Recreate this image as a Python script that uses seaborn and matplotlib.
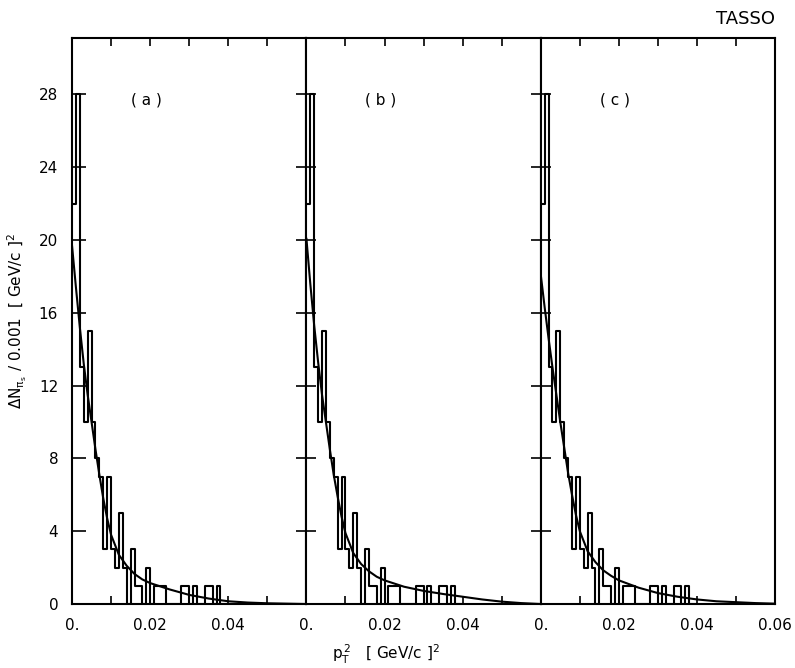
import numpy as np
import pandas as pd
import matplotlib
matplotlib.use("Agg")
import matplotlib.pyplot as plt
import seaborn as sns

# counts per 0.001 bin of pT^2
bin_width = 0.001
counts_a = [22, 28, 13, 10, 15, 10, 8, 7, 3, 7, 3, 2, 5, 2, 0, 3, 1, 1, 0, 2,
            0, 1, 1, 1, 0, 0, 0, 0, 1, 1, 0, 1, 0, 0, 1, 1, 0, 1, 0, 0]
counts_b = [22, 28, 13, 10, 15, 10, 8, 7, 3, 7, 3, 2, 5, 2, 0, 3, 1, 1, 0, 2,
            0, 1, 1, 1, 0, 0, 0, 0, 1, 1, 0, 1, 0, 0, 1, 1, 0, 1, 0, 0]
counts_c = [22, 28, 13, 10, 15, 10, 8, 7, 3, 7, 3, 2, 5, 2, 0, 3, 1, 1, 0, 2,
            0, 1, 1, 1, 0, 0, 0, 0, 1, 1, 0, 1, 0, 0, 1, 1, 0, 1, 0, 0]

# fitted curves
fit_x = [0.0, 0.001, 0.002, 0.003, 0.004, 0.005, 0.006, 0.007, 0.008, 0.009,
         0.010, 0.012, 0.014, 0.016, 0.018, 0.020, 0.025, 0.030, 0.035, 0.040,
         0.045, 0.050, 0.055, 0.060]
fit_a = [19.7, 17.4, 15.2, 13.2, 11.5, 10.0, 8.5, 7.1, 5.8, 4.7,
         3.8, 2.7, 2.1, 1.65, 1.35, 1.15, 0.8, 0.5, 0.3, 0.15,
         0.08, 0.04, 0.02, 0.0]
fit_b = [20.1, 17.6, 15.3, 13.3, 11.5, 10.0, 8.5, 7.1, 5.9, 4.8,
         3.9, 2.8, 2.2, 1.8, 1.5, 1.3, 0.95, 0.72, 0.55, 0.4,
         0.25, 0.13, 0.05, 0.0]
fit_c = [18.1, 16.3, 14.6, 13.0, 11.5, 10.0, 8.6, 7.2, 6.0, 4.9,
         4.0, 2.9, 2.3, 1.85, 1.55, 1.3, 0.9, 0.6, 0.4, 0.25,
         0.15, 0.1, 0.05, 0.02]

panel_labels = ["( a )", "( b )", "( c )"]
y_ticks = [0, 4, 8, 12, 16, 20, 24, 28]
x_ticks = [0.0, 0.01, 0.02, 0.03, 0.04, 0.05, 0.06]
x_ticklabels = ["0.", "", "0.02", "", "0.04", "", "0.06"]

sns.set_style("ticks")
plt.rcParams["font.family"] = ["DejaVu Sans"]
plt.rcParams["text.color"] = "black"
plt.rcParams["axes.edgecolor"] = "black"
plt.rcParams["xtick.color"] = "black"
plt.rcParams["ytick.color"] = "black"
plt.rcParams["mathtext.default"] = "regular"

fig, axes = plt.subplots(1, 3, sharey=True, figsize=(7.95, 6.68), dpi=100)
fig.subplots_adjust(left=0.0906, right=0.975, bottom=0.0958, top=0.943, wspace=0)

for i, (ax, counts, fit, lab) in enumerate(zip(axes, [counts_a, counts_b, counts_c],
                                               [fit_a, fit_b, fit_c], panel_labels)):
    n = len(counts)
    centers = (np.arange(n) + 0.5) * bin_width
    df = pd.DataFrame({"pt2": centers, "n": counts})
    sns.histplot(data=df, x="pt2", weights="n", binwidth=bin_width,
                 binrange=(0, n * bin_width), element="step",
                 fill=False, color="black", linewidth=1.5, ax=ax)
    sns.lineplot(x=fit_x, y=fit, color="black", linewidth=1.5, ax=ax)

    ax.set_xlim(0, 0.06)
    ax.set_ylim(0, 31.1)
    ax.set_xlabel("")
    ax.set_ylabel("")
    ax.set_xticks(x_ticks)
    labels = list(x_ticklabels)
    if i < 2:
        labels[-1] = ""
    ax.set_xticklabels(labels, fontsize=11)
    ax.set_yticks(y_ticks)
    ax.tick_params(axis="x", direction="in", length=6, width=1.2, top=True, pad=10)
    if i == 0:
        ax.tick_params(axis="y", direction="in", length=10, width=1.2, labelsize=11, pad=10)
    else:
        ax.tick_params(axis="y", direction="inout", length=14, width=1.2, left=True)
    for s in ax.spines.values():
        s.set_linewidth(1.5)
        s.set_visible(True)
    ax.text(0.019, 27.7, lab, fontsize=11, ha="center", va="center")

fig.text(0.022, 0.52,
         r"$\Delta N_{\pi_s}$ / 0.001  [ GeV/c ]$^2$",
         rotation=90, ha="center", va="center", fontsize=11)
fig.text(0.485, 0.02, r"$p_T^{\,2}$   [ GeV/c ]$^2$", ha="center", va="center", fontsize=11)
fig.text(0.975, 0.972, "TASSO", ha="right", va="center", fontsize=13)

fig.savefig("out.png", dpi=100, facecolor="white")
